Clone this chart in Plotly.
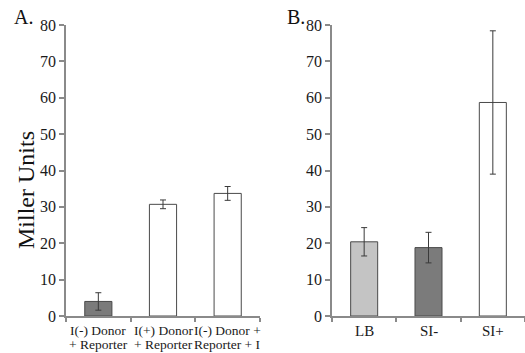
import plotly.graph_objects as go

W, H = 525, 353

# Panel A data
cats_a = ["I(-) Donor<br>+ Reporter", "I(+) Donor<br>+ Reporter", "I(-) Donor +<br>Reporter + I"]
vals_a = [4.0, 30.7, 33.7]
err_a = [2.4, 1.2, 1.9]
colors_a = ["#7b7b7b", "#ffffff", "#ffffff"]

# Panel B data
cats_b = ["LB", "SI-", "SI+"]
vals_b = [20.4, 18.8, 58.7]
err_b = [3.9, 4.2, 19.7]
colors_b = ["#c4c4c4", "#7b7b7b", "#ffffff"]

y_ticks = [0, 10, 20, 30, 40, 50, 60, 70, 80]

FONT = "Liberation Serif"
AXC = "#8a8a8a"

fig = go.Figure()
for cats, vals, errs, cols, xa, ya in [
    (cats_a, vals_a, err_a, colors_a, "x", "y"),
    (cats_b, vals_b, err_b, colors_b, "x2", "y2"),
]:
    fig.add_trace(go.Bar(
        x=list(range(len(cats))), y=vals, xaxis=xa, yaxis=ya,
        width=0.42,
        marker=dict(color=cols, line=dict(color="#4a4a4a", width=1)),
        error_y=dict(type="data", array=errs, visible=True,
                     color="#3a3a3a", thickness=1, width=3),
        showlegend=False,
    ))

def px_x(p):
    return p / W

def px_y(p):
    return 1 - p / H

xcommon = dict(
    range=[-0.5, 2.5], tickmode="array", tickvals=[0, 1, 2],
    showline=True, linecolor=AXC, linewidth=1.5, tickangle=0,
    ticks="", showgrid=False, zeroline=False, automargin=False,
    showticklabels=False,
)
ycommon = dict(
    range=[0, 80], tickmode="array", tickvals=y_ticks,
    ticktext=[str(v) for v in y_ticks],
    showline=True, linecolor=AXC, linewidth=1.5,
    ticks="outside", ticklen=5, tickcolor=AXC, tickwidth=1.5,
    showgrid=False, zeroline=False, automargin=False,
    tickfont=dict(family=FONT, size=16, color="#1a1a1a"),
)

ydom = [px_y(316), px_y(25)]
fig.update_layout(
    width=W, height=H,
    margin=dict(l=0, r=0, t=0, b=0),
    paper_bgcolor="white", plot_bgcolor="white",
    template="none",
    xaxis=dict(**xcommon, anchor="y", domain=[px_x(66), px_x(260)]),
    yaxis=dict(**ycommon, domain=ydom, anchor="x"),
    xaxis2=dict(**xcommon, anchor="y2", domain=[px_x(332), px_x(525)]),
    yaxis2=dict(**ycommon, domain=ydom, anchor="x2"),
)

# boundary ticks on x axes
for xa in ["xaxis", "xaxis2"]:
    fig.layout[xa].update(
        minor=dict(tickmode="array", tickvals=[-0.5, 0.5, 1.5, 2.5],
                   ticks="outside", ticklen=4, tickcolor=AXC, tickwidth=1.5),
    )

# category labels (each line placed separately for tight line spacing)
for cats, xref in [(cats_a, "x"), (cats_b, "x2")]:
    for i, c in enumerate(cats):
        lines = c.split("<br>")
        ys = [330, 344][:len(lines)]
        if len(lines) == 1:
            ys = [331]
        for ln, yy in zip(lines, ys):
            fig.add_annotation(text=ln, x=i, y=px_y(yy), xref=xref, yref="paper",
                               showarrow=False, xanchor="center", yanchor="middle",
                               font=dict(family=FONT, size=13.5 if len(lines) > 1 else 15,
                                         color="#1a1a1a"))

fig.add_annotation(text="A.", x=px_x(23), y=px_y(17), xref="paper", yref="paper",
                   showarrow=False, font=dict(family=FONT, size=20, color="#111"),
                   xanchor="center", yanchor="middle")
fig.add_annotation(text="B.", x=px_x(296), y=px_y(17), xref="paper", yref="paper",
                   showarrow=False, font=dict(family=FONT, size=20, color="#111"),
                   xanchor="center", yanchor="middle")
fig.add_annotation(text="Miller Units", x=px_x(26), y=px_y(190), xref="paper", yref="paper",
                   showarrow=False, textangle=-90,
                   font=dict(family=FONT, size=24, color="#111"),
                   xanchor="center", yanchor="middle")

fig.write_html("out.html", config={"displayModeBar": False},
               post_script="document.body.style.margin='0';document.body.style.overflow='hidden';")
